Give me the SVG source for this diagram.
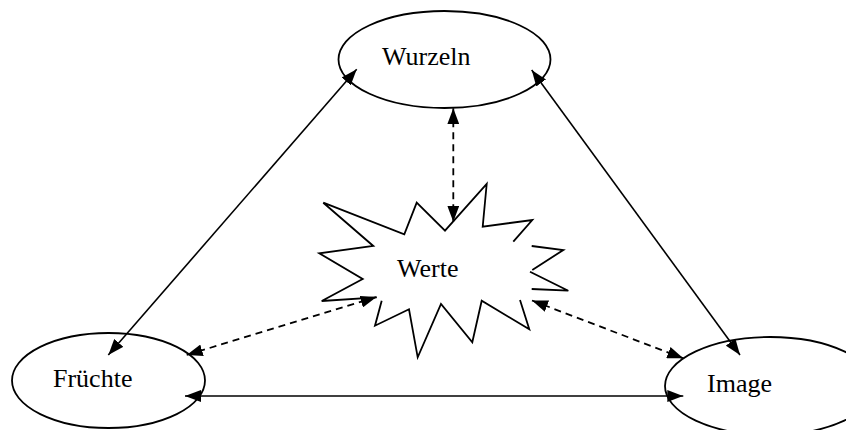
<svg xmlns="http://www.w3.org/2000/svg" width="846" height="430" viewBox="0 0 846 430">
  <style>
    .node ellipse { fill: #fff; stroke: #000; stroke-width: 1.8; }
    .label { font-family: "Liberation Serif", "Times New Roman", serif; font-size: 26px; fill: #000; }
    .burst { fill: none; stroke: #000; stroke-width: 1.8; stroke-linejoin: miter; }
    .solid { stroke: #000; stroke-width: 1.6; fill: none; }
    .dashed { stroke: #000; stroke-width: 1.8; fill: none; stroke-dasharray: 7 5; }
  </style>
  <defs>
    <marker id="head" markerUnits="userSpaceOnUse" markerWidth="16" markerHeight="12" refX="16" refY="6" orient="auto-start-reverse">
      <path d="M0,0 L16,6 L0,12 z" fill="#000"/>
    </marker>
  </defs>

  <rect width="846" height="430" fill="#fff"/>

  <!-- central starburst "Werte" -->
  <g id="werte">
    <polygon points="323.3,202.7 404.3,234.3 416.7,202.7 445,230.7 486.7,184 482.7,226.7 532.3,220 513.3,241.7 531.7,246 563.3,250 532.3,270 530,271.7 568.3,290.7 531.7,289 520,300 529.3,329.3 481.7,300.7 472.3,342.3 441,304 417.7,357.3 409,309.3 375,325.7 381.7,300.7 376.7,297.3 321.7,301 362.7,279 319.3,253.3 373.3,246" fill="#fff" stroke="none"/>
    <polyline class="burst" points="376.7,297.3 321.7,301 362.7,279 319.3,253.3 373.3,246 323.3,202.7 404.3,234.3 416.7,202.7 445,230.7 486.7,184 482.7,226.7 532.3,220 513.3,241.7"/>
    <polyline class="burst" points="531.7,246 563.3,250 532.3,270"/>
    <polyline class="burst" points="530,271.7 568.3,290.7 531.7,289"/>
    <polyline class="burst" points="520,300 529.3,329.3 481.7,300.7 472.3,342.3 441,304 417.7,357.3 409,309.3 375,325.7 381.7,300.7"/>
    <text class="label" x="397" y="277">Werte</text>
  </g>

  <g id="wurzeln" class="node">
    <ellipse cx="444.5" cy="59.5" rx="106" ry="48.5"/>
    <text class="label" x="382" y="65">Wurzeln</text>
  </g>

  <g id="fruechte" class="node">
    <ellipse cx="108.5" cy="380.5" rx="96.5" ry="47.5"/>
    <text class="label" x="53" y="387">Früchte</text>
  </g>

  <g id="image" class="node">
    <ellipse cx="770" cy="386" rx="105" ry="49"/>
    <text class="label" x="707" y="392">Image</text>
  </g>

  <!-- connectors -->
  <g id="connectors">
    <line class="solid" x1="108.3" y1="355" x2="356.7" y2="69.3" marker-start="url(#head)" marker-end="url(#head)"/>
    <line class="solid" x1="531.7" y1="70" x2="740" y2="355" marker-start="url(#head)" marker-end="url(#head)"/>
    <line class="solid" x1="185" y1="396" x2="683.3" y2="396" marker-start="url(#head)" marker-end="url(#head)"/>
    <line class="dashed" x1="453.3" y1="108.3" x2="453.3" y2="221.7" marker-start="url(#head)" marker-end="url(#head)"/>
    <line class="dashed" x1="186.7" y1="355" x2="376.5" y2="297" marker-start="url(#head)" marker-end="url(#head)"/>
    <line class="dashed" x1="532" y1="300.5" x2="683.3" y2="358.3" marker-start="url(#head)" marker-end="url(#head)"/>
  </g>
</svg>
